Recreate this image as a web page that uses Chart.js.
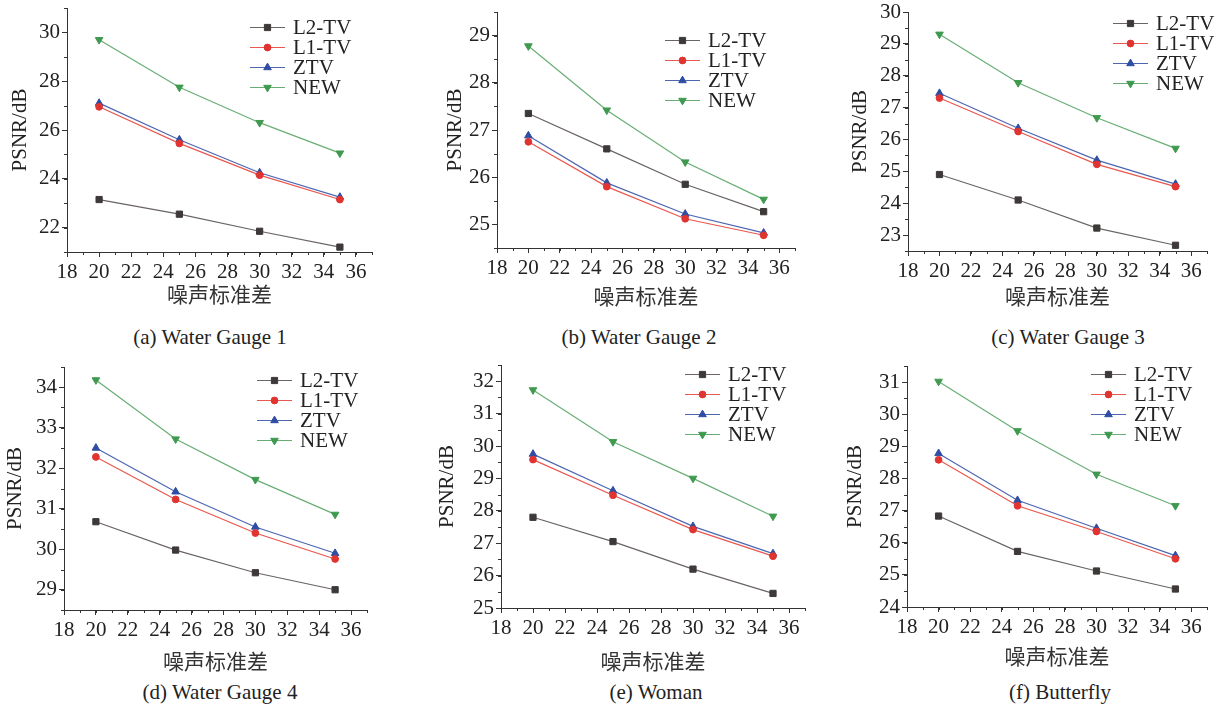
<!DOCTYPE html>
<html>
<head>
<meta charset="utf-8">
<script src="https://cdn.jsdelivr.net/npm/chart.js@4.4.1/dist/chart.umd.min.js"></script>
<style>
html, body { margin: 0; padding: 0; background: #fff; }
body { width: 1221px; height: 706px; position: relative; overflow: hidden; }
canvas { position: absolute; }
.cap { position: absolute; font: 21px "Liberation Serif", "Times New Roman", serif; color: #222; white-space: nowrap; transform: translate(-50%, -50%); }
</style>
</head>
<body>
<script>
// x = noise std, same for all panels
const noiseLevels = [20, 25, 30, 35];
const methodNames = ['L2-TV', 'L1-TV', 'ZTV', 'NEW'];
const xTicks = [18, 20, 22, 24, 26, 28, 30, 32, 34, 36];

// (a) Water Gauge 1
const gauge1L2 = [23.15, 22.55, 21.85, 21.2];
const gauge1L1 = [26.95, 25.45, 24.15, 23.15];
const gauge1ZTV = [27.1, 25.6, 24.25, 23.25];
const gauge1NEW = [29.7, 27.75, 26.3, 25.05];
const gauge1YTicks = [22, 24, 26, 28, 30];

// (b) Water Gauge 2
const gauge2L2 = [27.35, 26.6, 25.85, 25.27];
const gauge2L1 = [26.75, 25.8, 25.12, 24.77];
const gauge2ZTV = [26.88, 25.88, 25.22, 24.82];
const gauge2NEW = [28.78, 27.42, 26.32, 25.53];
const gauge2YTicks = [25, 26, 27, 28, 29];

// (c) Water Gauge 3
const gauge3L2 = [24.9, 24.1, 23.22, 22.68];
const gauge3L1 = [27.3, 26.25, 25.22, 24.52];
const gauge3ZTV = [27.45, 26.35, 25.35, 24.6];
const gauge3NEW = [29.3, 27.78, 26.68, 25.72];
const gauge3YTicks = [23, 24, 25, 26, 27, 28, 29, 30];

// (d) Water Gauge 4
const gauge4L2 = [30.68, 29.98, 29.42, 29.0];
const gauge4L1 = [32.28, 31.23, 30.4, 29.76];
const gauge4ZTV = [32.5, 31.42, 30.55, 29.9];
const gauge4NEW = [34.18, 32.72, 31.72, 30.86];
const gauge4YTicks = [29, 30, 31, 32, 33, 34];

// (e) Woman
const womanL2 = [27.8, 27.05, 26.2, 25.45];
const womanL1 = [29.58, 28.48, 27.42, 26.6];
const womanZTV = [29.75, 28.62, 27.52, 26.68];
const womanNEW = [31.73, 30.13, 29.0, 27.83];
const womanYTicks = [25, 26, 27, 28, 29, 30, 31, 32];

// (f) Butterfly
const butterflyL2 = [26.83, 25.73, 25.12, 24.56];
const butterflyL1 = [28.58, 27.15, 26.35, 25.5];
const butterflyZTV = [28.78, 27.32, 26.45, 25.6];
const butterflyNEW = [31.02, 29.48, 28.13, 27.15];
const butterflyYTicks = [24, 25, 26, 27, 28, 29, 30, 31];

const seriesStyle = [
  { line: '#6a6464', fill: '#3e3939', shape: 'rect', r: 4.4, rot: 0 },
  { line: '#e9574f', fill: '#df3430', shape: 'circle', r: 3.4, rot: 0 },
  { line: '#4d66b2', fill: '#2f4da3', shape: 'triangle', r: 4.4, rot: 0 },
  { line: '#68ae74', fill: '#3f9a4f', shape: 'triangle', r: 4.4, rot: 180 }
];

// plot box (page px), title spots, legend offset from top-right of plot
const panels = [
  { caption: '(a) Water Gauge 1', series: [gauge1L2, gauge1L1, gauge1ZTV, gauge1NEW], yTicks: gauge1YTicks,
    yMin: 21, yMax: 31, minorStep: 1, L: 67, T: 8, R: 372, B: 252, yTitleX: 20, xTitleY: 295, capX: 210, capY: 337, lgDx: 122, lgDy: 19 },
  { caption: '(b) Water Gauge 2', series: [gauge2L2, gauge2L1, gauge2ZTV, gauge2NEW], yTicks: gauge2YTicks,
    yMin: 24.5, yMax: 29.5, minorStep: 0.5, L: 497, T: 12, R: 795, B: 248, yTitleX: 455, xTitleY: 297, capX: 639, capY: 337, lgDx: 130, lgDy: 28 },
  { caption: '(c) Water Gauge 3', series: [gauge3L2, gauge3L1, gauge3ZTV, gauge3NEW], yTicks: gauge3YTicks,
    yMin: 22.5, yMax: 30, minorStep: 0.5, L: 908, T: 12, R: 1207, B: 251, yTitleX: 860, xTitleY: 297, capX: 1068, capY: 337, lgDx: 94, lgDy: 11 },
  { caption: '(d) Water Gauge 4', series: [gauge4L2, gauge4L1, gauge4ZTV, gauge4NEW], yTicks: gauge4YTicks,
    yMin: 28.5, yMax: 34.5, minorStep: 0.5, L: 64, T: 367, R: 367, B: 610, yTitleX: 15, xTitleY: 662, capX: 220, capY: 692, lgDx: 110, lgDy: 13 },
  { caption: '(e) Woman', series: [womanL2, womanL1, womanZTV, womanNEW], yTicks: womanYTicks,
    yMin: 25, yMax: 32.5, minorStep: 0.5, L: 501, T: 365, R: 805, B: 608, yTitleX: 447, xTitleY: 662, capX: 656, capY: 692, lgDx: 120, lgDy: 9 },
  { caption: '(f) Butterfly', series: [butterflyL2, butterflyL1, butterflyZTV, butterflyNEW], yTicks: butterflyYTicks,
    yMin: 24, yMax: 31.5, minorStep: 0.5, L: 907, T: 366, R: 1207, B: 607, yTitleX: 855, xTitleY: 657, capX: 1060, capY: 692, lgDx: 116, lgDy: 8 }
];

const serif = '"Liberation Serif", "Times New Roman", serif';
const axisColor = '#333';
const PAD = 20;

// legend drawn inside the plot, near the top-right corner
const cornerLegend = {
  id: 'cornerLegend',
  afterDraw(chart, args, opts) {
    const { ctx, chartArea } = chart;
    const x0 = chartArea.right - opts.dx;
    chart.data.datasets.forEach((ds, i) => {
      const y = chartArea.top + opts.dy + i * 20;
      ctx.save();
      ctx.strokeStyle = ds.borderColor;
      ctx.lineWidth = 1;
      ctx.beginPath();
      ctx.moveTo(x0, y + 0.5);
      ctx.lineTo(x0 + 35, y + 0.5);
      ctx.stroke();
      ctx.fillStyle = ds.pointBackgroundColor;
      ctx.strokeStyle = ds.pointBorderColor;
      Chart.helpers.drawPoint(ctx, { pointStyle: ds.pointStyle, radius: ds.pointRadius, rotation: ds.pointRotation, borderWidth: 1 }, x0 + 17.5, y + 0.5);
      ctx.fillStyle = '#222';
      ctx.font = '21px ' + serif;
      ctx.textBaseline = 'middle';
      ctx.fillText(ds.label, x0 + 43, y + 1);
      ctx.restore();
    });
  }
};

// short minor ticks between the labelled ones
const minorTicks = {
  id: 'minorTicks',
  afterDraw(chart, args, opts) {
    const { ctx, chartArea, scales } = chart;
    const x = scales.x, y = scales.y;
    ctx.save();
    ctx.strokeStyle = axisColor;
    ctx.lineWidth = 1;
    ctx.beginPath();
    for (let v = x.min; v <= x.max + 1e-9; v += 1) {
      const px = Math.round(x.getPixelForValue(v)) + 0.5;
      ctx.moveTo(px, chartArea.bottom);
      ctx.lineTo(px, chartArea.bottom + 3);
    }
    for (let v = y.min; v <= y.max + 1e-9; v += opts.step) {
      const py = Math.round(y.getPixelForValue(v)) + 0.5;
      ctx.moveTo(chartArea.left, py);
      ctx.lineTo(chartArea.left - 3, py);
    }
    ctx.stroke();
    ctx.restore();
  }
};

panels.forEach(p => {
  const W = p.L - p.yTitleX + 12;
  const H = p.xTitleY - p.B + 12;
  const canvas = document.createElement('canvas');
  canvas.width = W + (p.R - p.L) + PAD;
  canvas.height = PAD + (p.B - p.T) + H;
  canvas.style.left = (p.L - W) + 'px';
  canvas.style.top = (p.T - PAD) + 'px';
  document.body.appendChild(canvas);

  const cap = document.createElement('div');
  cap.className = 'cap';
  cap.textContent = p.caption;
  cap.style.left = p.capX + 'px';
  cap.style.top = p.capY + 'px';
  document.body.appendChild(cap);

  const datasets = methodNames.map((name, i) => ({
    label: name,
    data: noiseLevels.map((n, j) => ({ x: n, y: p.series[i][j] })),
    borderColor: seriesStyle[i].line,
    borderWidth: 1.2,
    tension: 0,
    pointStyle: seriesStyle[i].shape,
    pointRadius: seriesStyle[i].r,
    pointRotation: seriesStyle[i].rot,
    pointBackgroundColor: seriesStyle[i].fill,
    pointBorderColor: seriesStyle[i].fill,
    pointBorderWidth: 1
  }));

  new Chart(canvas, {
    type: 'line',
    data: { datasets: datasets },
    options: {
      responsive: false,
      animation: false,
      devicePixelRatio: 1,
      layout: { padding: { top: PAD, right: PAD, left: 0, bottom: 0 } },
      plugins: {
        legend: { display: false },
        tooltip: { enabled: false },
        cornerLegend: { dx: p.lgDx, dy: p.lgDy },
        minorTicks: { step: p.minorStep }
      },
      scales: {
        x: {
          type: 'linear', min: 18, max: 37,
          afterBuildTicks: s => { s.ticks = xTicks.map(v => ({ value: v })); },
          afterFit: s => { s.height = H; },
          ticks: { autoSkip: false, maxRotation: 0, padding: 3, color: '#222', font: { family: serif, size: 21 } },
          grid: { drawOnChartArea: false, drawTicks: true, tickLength: 5, tickColor: axisColor },
          border: { display: true, color: axisColor, width: 1 },
          title: { display: true, text: '噪声标准差', color: '#333', padding: 0,
            font: { family: '"Noto Sans CJK SC", sans-serif', size: 21, lineHeight: 1.2 } }
        },
        y: {
          type: 'linear', min: p.yMin, max: p.yMax,
          afterBuildTicks: s => { s.ticks = p.yTicks.map(v => ({ value: v })); },
          afterFit: s => { s.width = W; },
          ticks: { autoSkip: false, padding: 2, color: '#222', font: { family: serif, size: 21 } },
          grid: { drawOnChartArea: false, drawTicks: true, tickLength: 5, tickColor: axisColor },
          border: { display: true, color: axisColor, width: 1 },
          title: { display: true, text: 'PSNR/dB', color: '#222', padding: 0,
            font: { family: serif, size: 21, lineHeight: 1.2 } }
        }
      }
    },
    plugins: [cornerLegend, minorTicks]
  });
});
</script>
</body>
</html>
